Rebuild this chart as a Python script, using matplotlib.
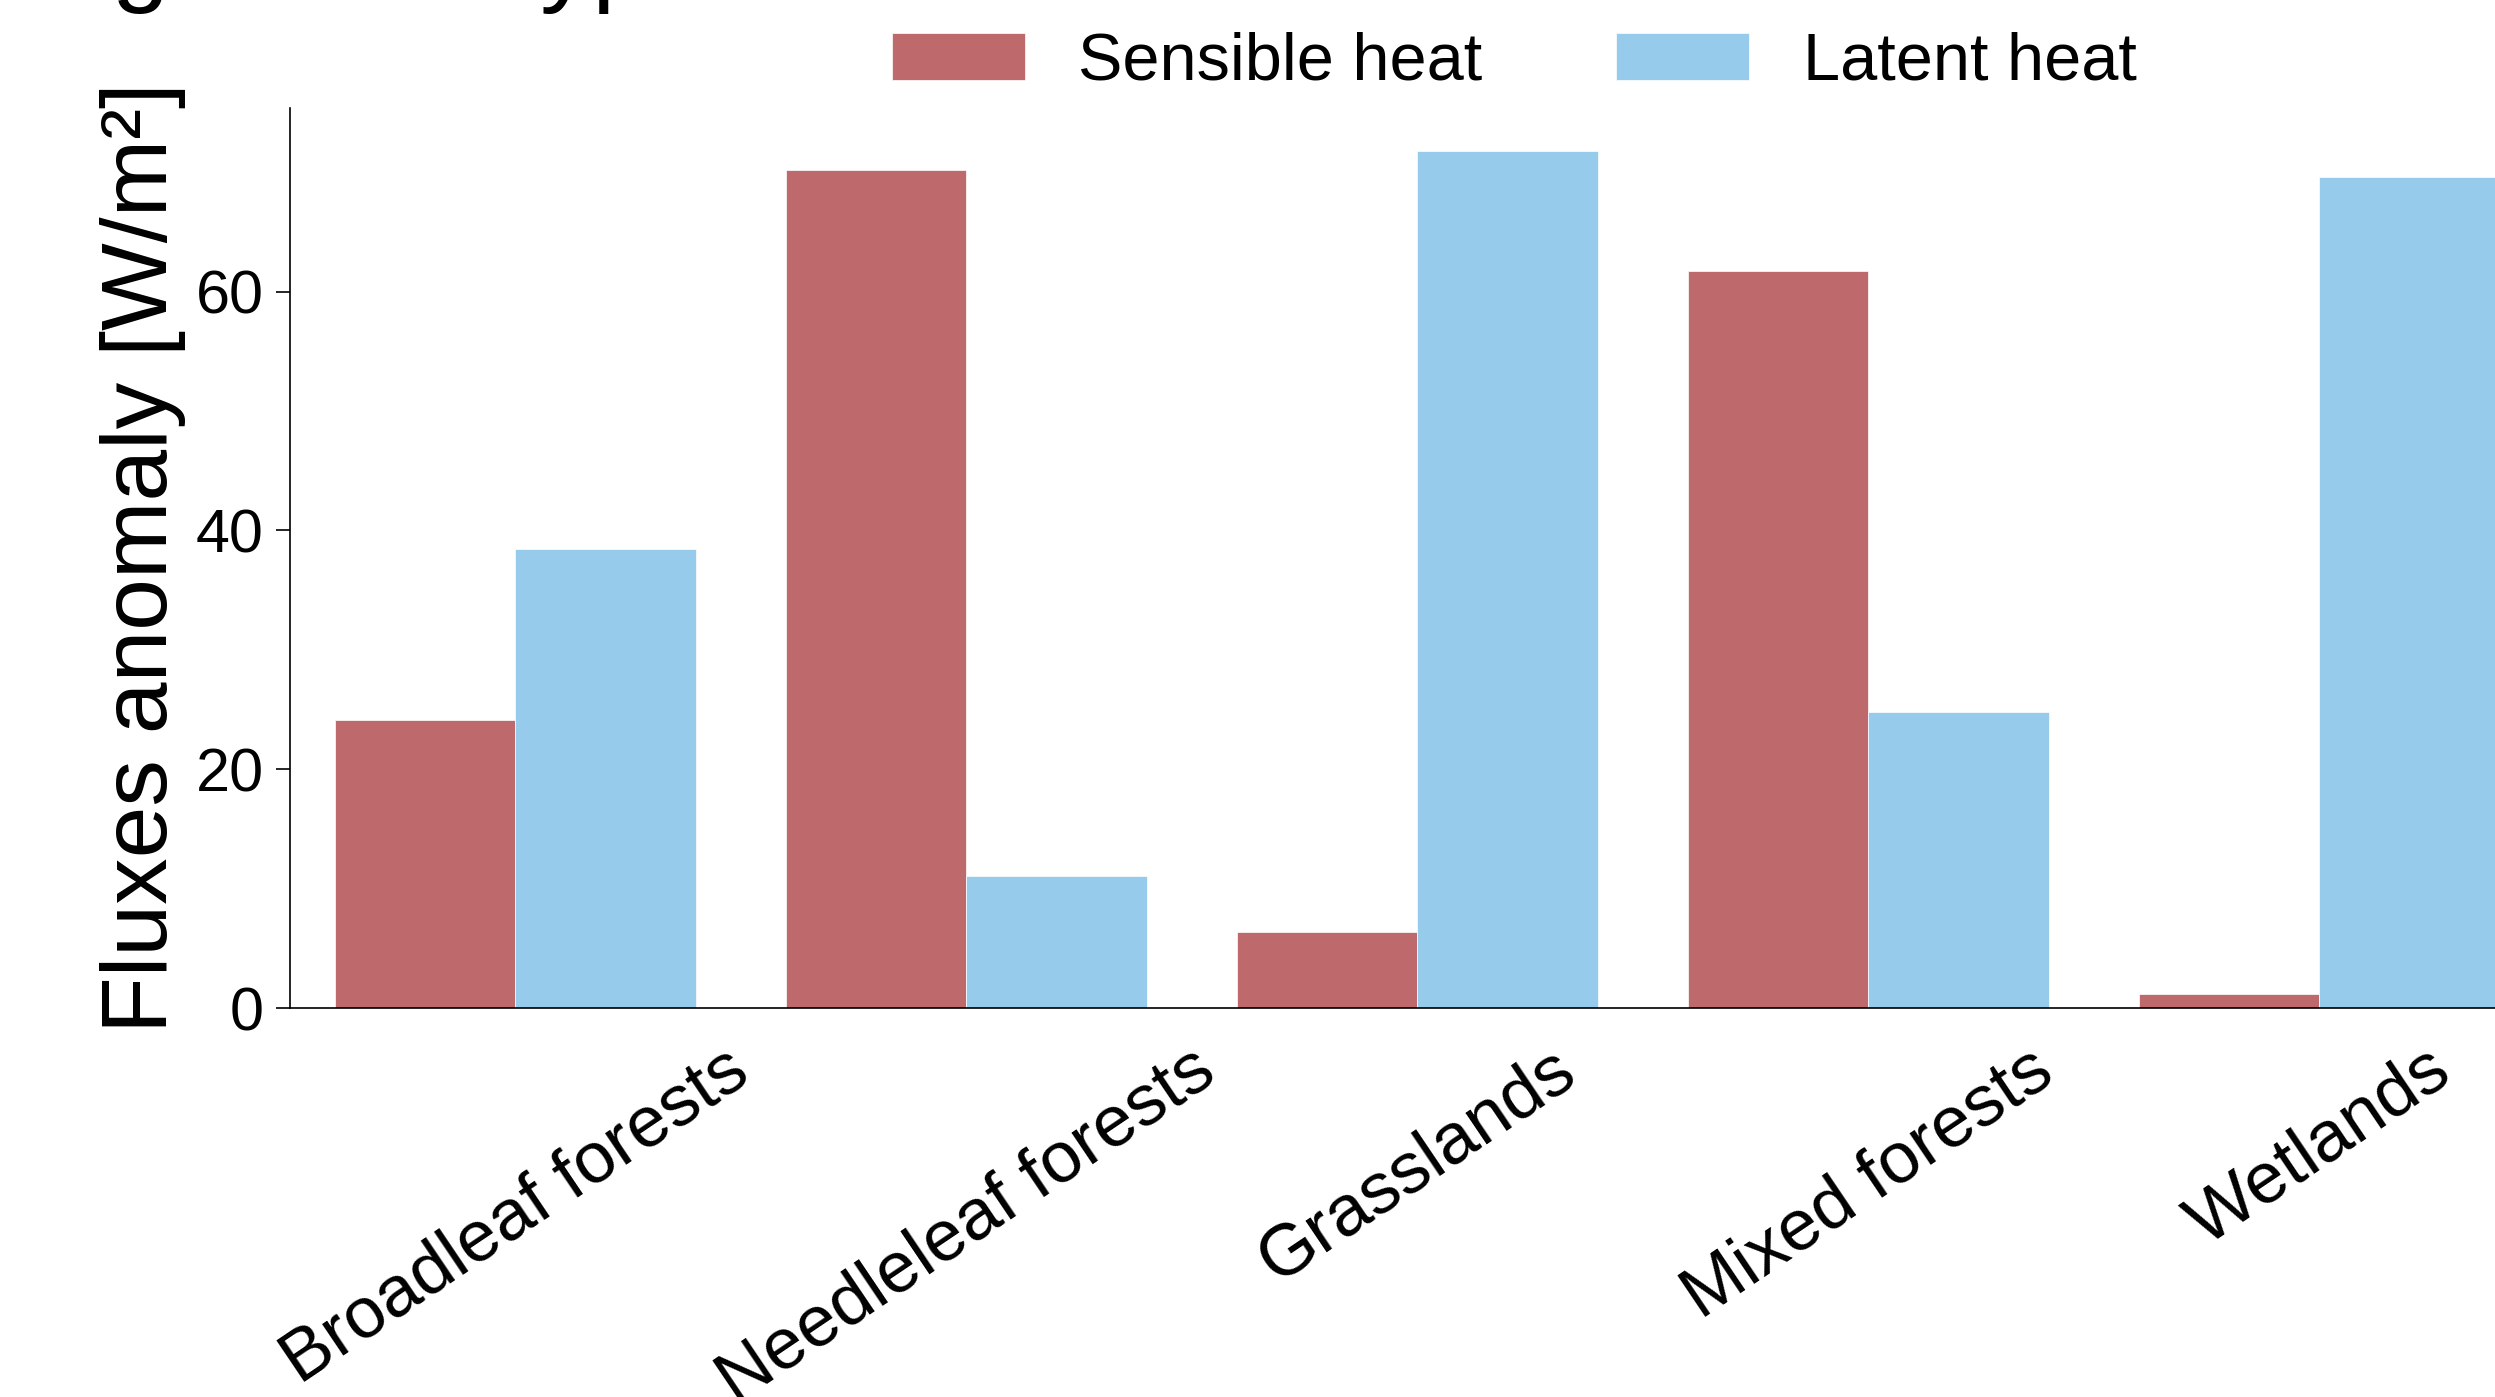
import numpy as np
import matplotlib
matplotlib.use("Agg")
import matplotlib.pyplot as plt

plt.rcParams['font.family'] = ['Liberation Sans', 'DejaVu Sans']

categories = ["Broadleaf forests", "Needleleaf forests", "Grasslands", "Mixed forests", "Wetlands"]
sensible   = [24.1, 70.2, 6.4, 61.7, 1.2]
latent     = [38.4, 11.1, 71.8, 24.8, 69.6]
series     = ["Sensible heat", "Latent heat"]
colors     = ["#BE696B", "#97CBEC"]

fig = plt.figure(figsize=(24.95, 13.97), dpi=100)
# axes runs past the right edge, as in the reference crop
ax = fig.add_axes([0.1162, 0.2784, 0.9038, 0.6445])

x = np.arange(len(categories))
w = 0.4
ax.bar(x - w/2, sensible, w, color=colors[0], edgecolor="white", linewidth=0.5, label=series[0])
ax.bar(x + w/2, latent, w, color=colors[1], edgecolor="white", linewidth=0.5, label=series[1])

ax.set_xlim(-0.5, 4.5)
ax.set_yticks([0, 20, 40, 60])
ax.set_xticks(x)
ax.set_xticklabels(categories, rotation=34, ha="center")

ax.tick_params(axis="y", labelsize=44, length=10, width=1.2, pad=9)
ax.tick_params(axis="x", labelsize=52, length=0, pad=20)
ax.set_ylabel("Fluxes anomaly [W/m²]", fontsize=67)
ax.yaxis.set_label_coords(-0.0461, 0.5)

for side in ["top", "right"]:
    ax.spines[side].set_visible(False)
for side in ["left", "bottom"]:
    ax.spines[side].set_linewidth(1.2)

fig.legend(loc="center", bbox_to_anchor=(1514/2495, 1 - 63/1397), ncol=2,
           frameon=False, fontsize=48)

# title sits above the crop, only the descenders show
fig.text(-10/2495, 1 + 8/1397, "Vegetation type", fontsize=75, va="baseline", ha="left")

fig.savefig("out.png", dpi=100)
